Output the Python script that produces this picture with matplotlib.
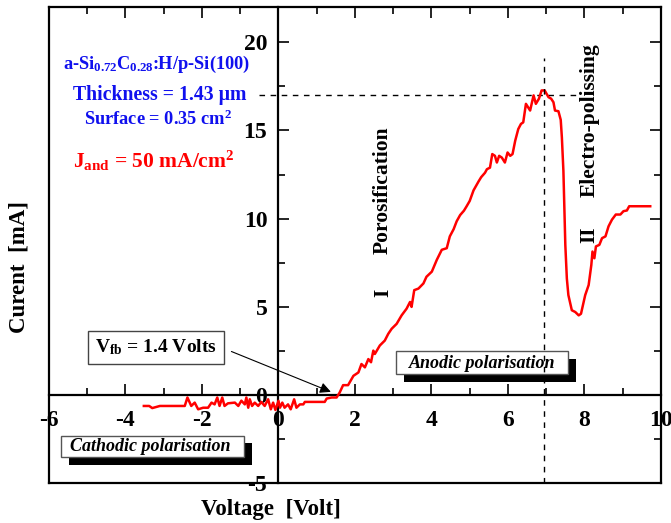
import matplotlib
matplotlib.use("Agg")
import matplotlib.pyplot as plt
import matplotlib.patheffects as pe
from matplotlib.patches import Rectangle
from matplotlib.ticker import MultipleLocator

plt.rcParams['font.family'] = ['Liberation Serif', 'DejaVu Serif']
plt.rcParams['font.weight'] = 'bold'
plt.rcParams['mathtext.fontset'] = 'custom'
plt.rcParams['mathtext.rm'] = 'Liberation Serif:bold'
plt.rcParams['mathtext.it'] = 'Liberation Serif:bold'
plt.rcParams['mathtext.bf'] = 'Liberation Serif:bold'
plt.rcParams['mathtext.default'] = 'rm'

# ---- data ----
voltage = [
    -3.52, -3.38, -3.30, -3.10, -2.45, -2.38, -2.28, -2.19, -2.10, -1.97,
    -1.84, -1.75, -1.67, -1.60, -1.54, -1.47, -1.41, -1.32, -1.14, -1.05,
    -0.97, -0.88, -0.84, -0.79, -0.75, -0.69, -0.62, -0.53, -0.45, -0.36,
    -0.27, -0.20, -0.14, -0.08, 0.00, 0.04, 0.10, 0.16, 0.25, 0.32,
    0.41, 0.47, 0.56, 0.65, 0.69, 1.21, 1.26, 1.39, 1.52, 1.60,
    1.69, 1.82, 1.96, 2.09, 2.17, 2.26, 2.35, 2.42, 2.48, 2.52,
    2.65, 2.78, 2.87, 2.96, 3.09, 3.22, 3.35, 3.44, 3.48, 3.55,
    3.66, 3.79, 3.87, 4.01, 4.14, 4.27, 4.40, 4.48, 4.58, 4.66,
    4.75, 4.85, 4.92, 5.00, 5.10, 5.23, 5.30, 5.40, 5.45, 5.53,
    5.59, 5.66, 5.71, 5.77, 5.84, 5.92, 5.99, 6.06, 6.12, 6.19,
    6.27, 6.34, 6.40, 6.47, 6.58, 6.67, 6.73, 6.81, 6.88, 6.96,
    7.06, 7.13, 7.19, 7.23, 7.32, 7.38, 7.41, 7.45, 7.50, 7.54,
    7.58, 7.67, 7.76, 7.85, 7.91, 8.02, 8.11, 8.18, 8.21, 8.26,
    8.30, 8.39, 8.46, 8.55, 8.63, 8.72, 8.82, 8.94, 9.02, 9.11,
    9.17, 9.72,
]
current = [
    -0.63, -0.63, -0.75, -0.63, -0.63, -0.15, -0.63, -0.44, -0.82, -0.73,
    -0.73, -0.44, -0.54, -0.15, -0.63, -0.15, -0.63, -0.48, -0.44, -0.63,
    -0.33, -0.54, -0.15, -0.73, -0.25, -0.63, -0.44, -0.63, -0.40, -0.63,
    -0.25, -0.82, -0.44, -0.86, -0.34, -0.73, -0.44, -0.73, -0.54, -0.82,
    -0.25, -0.73, -0.54, -0.54, -0.40, -0.40, -0.21, -0.15, -0.15, 0.13,
    0.55, 0.55, 1.08, 1.27, 1.75, 1.56, 2.03, 1.85, 2.51, 2.32,
    2.80, 3.08, 3.46, 3.75, 4.03, 4.51, 4.89, 5.27, 4.99, 5.94,
    6.03, 6.32, 6.70, 6.99, 7.66, 8.23, 8.32, 8.99, 9.40, 9.85,
    10.20, 10.45, 10.70, 11.00, 11.60, 12.10, 12.35, 12.60, 12.80, 12.89,
    13.66, 13.56, 13.18, 13.56, 13.46, 13.18, 13.75, 13.56, 13.66, 14.42,
    15.08, 15.37, 15.46, 16.51, 16.13, 16.99, 16.51, 16.80, 17.27, 17.27,
    16.89, 16.80, 16.60, 16.13, 16.09, 15.60, 14.60, 12.70, 8.51, 6.60,
    5.66, 4.80, 4.70, 4.51, 4.60, 5.66, 6.23, 7.37, 8.13, 7.75,
    8.42, 8.51, 8.89, 8.99, 9.56, 9.94, 10.23, 10.23, 10.42, 10.46,
    10.70, 10.70,
]
peak_current = 17.03
peak_voltage = 6.94
vfb = 1.4
x_ticks = [-6, -4, -2, 0, 2, 4, 6, 8, 10]
y_ticks = [-5, 0, 5, 10, 15, 20]

fig = plt.figure(figsize=(6.71, 5.23), dpi=100)
ax = fig.add_axes([0.073, 0.0765, 0.912, 0.91])
ax.set_xlim(-6, 10)
ax.set_ylim(-5, 22)

# axes crossing at origin
ax.spines['left'].set_position(('data', 0))
ax.spines['bottom'].set_position(('data', 0))
for s in ax.spines.values():
    s.set_linewidth(1.6)
# outer frame left & bottom
ax.plot([-6, -6], [-5, 22], color='k', lw=1.6, clip_on=False, zorder=3)
ax.plot([-6, 10], [-5, -5], color='k', lw=1.6, clip_on=False, zorder=3)

ax.set_xticks(x_ticks)
ax.set_yticks(y_ticks)
ax.set_xticklabels([str(t) for t in x_ticks])
ax.set_yticklabels([str(t) for t in y_ticks])
ax.xaxis.set_minor_locator(MultipleLocator(1))
ax.yaxis.set_minor_locator(MultipleLocator(2.5))
ax.tick_params(which='both', direction='in', top=True, right=True,
               width=1.2, labelsize=17)
ax.tick_params(which='major', length=8)
ax.tick_params(which='minor', length=5)
ax.tick_params(axis='x', pad=11)
ax.tick_params(axis='y', pad=8)
for lab in ax.get_xticklabels() + ax.get_yticklabels():
    lab.set_fontweight('bold')

# curve
ax.plot(voltage, current, color='#ff0000', lw=1.8, zorder=4)

# dashed reference lines
ax.plot([-0.5, 7.85], [peak_current, peak_current], color='k', lw=1.0,
        ls=(0, (4, 4)), zorder=2)
ax.plot([peak_voltage, peak_voltage], [-5, 19.1], color='k', lw=1.0,
        ls=(0, (4, 4)), zorder=6)

# labels
fig.text(0.404, 0.025, 'Voltage  [Volt]', ha='center', va='center',
         fontsize=16.5, fontweight='bold')
fig.text(0.028, 0.49, 'Curent  [mA]', ha='center', va='center',
         fontsize=16.5, fontweight='bold', rotation=90)

blue = '#1010ee'
ax.text(-3.2, 18.75, 'a-Si$_{0.72}$C$_{0.28}$:H/p-Si(100)', color=blue,
        ha='center', va='center', fontsize=13.2)
ax.text(-3.1, 17.0, 'Thickness = 1.43 µm', color=blue,
        ha='center', va='center', fontsize=14.2)
ax.text(-3.15, 15.65, 'Surface = 0.35 cm$^{2}$', color=blue,
        ha='center', va='center', fontsize=13.2)
ax.text(-3.25, 13.3, 'J$_{\\mathrm{and}}$ = 50 mA/cm$^{2}$', color='#ff0000',
        ha='center', va='center', fontsize=15.5)

ax.text(2.73, 11.6, 'Porosification', rotation=90, ha='center', va='center',
        fontsize=15.5)
ax.text(2.73, 5.8, 'I', rotation=90, ha='center', va='center', fontsize=15.5)
ax.text(8.14, 15.6, 'Electro-polissing', rotation=90, ha='center',
        va='center', fontsize=15.5)
ax.text(8.14, 9.1, 'II', rotation=90, ha='center', va='center', fontsize=15.5)

# Vfb box and arrow
ax.text(-3.2, 2.7, 'V$_{\\mathrm{fb}}$ = 1.4 Volts', ha='center', va='center',
        fontsize=14,
        bbox=dict(boxstyle='square,pad=0.35', fc='white', ec='#444444', lw=1.0))
ax.annotate('', xy=(vfb - 0.03, 0.17), xytext=(-1.23, 2.46),
            arrowprops=dict(arrowstyle='-|>', color='k', lw=0.8,
                            mutation_scale=16, shrinkA=0, shrinkB=0))

shadow = [pe.withSimplePatchShadow(offset=(5.8, -5.4), shadow_rgbFace='k',
                                   alpha=1.0)]
r1 = Rectangle((3.06, 1.18), 4.51, 1.28, fc='white', ec='#555555', lw=1.0,
               zorder=5)
r1.set_path_effects(shadow)
ax.add_patch(r1)
ax.text(5.33, 1.8, 'Anodic polarisation', ha='center', va='center',
        fontsize=13, fontstyle='italic', zorder=7)
r2 = Rectangle((-5.68, -3.53), 4.79, 1.22, fc='white', ec='#555555', lw=1.0,
               zorder=5)
r2.set_path_effects(shadow)
ax.add_patch(r2)
ax.text(-3.35, -2.92, 'Cathodic polarisation', ha='center', va='center',
        fontsize=13, fontstyle='italic', zorder=7)

fig.savefig('out.png', dpi=100)
